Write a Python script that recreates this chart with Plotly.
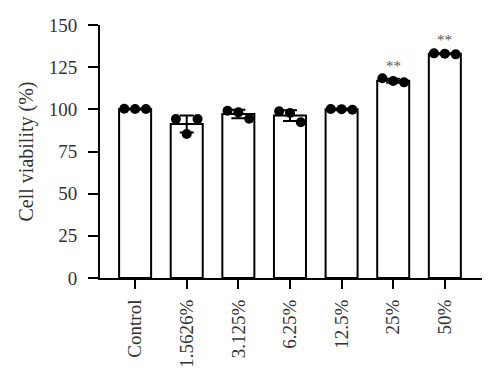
import plotly.graph_objects as go

categories = ["Control", "1.5626%", "3.125%", "6.25%", "12.5%", "25%", "50%"]
means = [100.2, 91.3, 97.2, 96.3, 100.0, 117.0, 132.9]
sds = [0.3, 5.0, 2.5, 3.2, 0.5, 1.2, 0.3]
pts_left = [100.3, 94.3, 99.2, 98.8, 100.2, 118.4, 133.2]
pts_mid = [100.2, 85.4, 98.2, 97.8, 100.1, 116.8, 133.0]
pts_right = [100.2, 94.3, 94.4, 92.3, 99.8, 116.0, 132.6]
stars = ["", "", "", "", "", "**", "**"]

FONT = "Liberation Serif"
x = list(range(len(categories)))

fig = go.Figure()
fig.add_trace(go.Bar(
    x=x, y=means, width=0.62,
    marker=dict(color="white", line=dict(color="black", width=2)),
    error_y=dict(type="data", array=sds, color="black", thickness=2, width=7),
    showlegend=False,
))
off = 0.21
for dx, vals in [(-off, pts_left), (0, pts_mid), (off, pts_right)]:
    fig.add_trace(go.Scatter(
        x=[i + dx for i in x], y=vals, mode="markers",
        marker=dict(color="black", size=10), showlegend=False, cliponaxis=False,
    ))

for i, s in enumerate(stars):
    if s:
        fig.add_annotation(x=i, y=means[i] + 8.5, text=s, showarrow=False,
                           font=dict(family=FONT, size=15, color="#555"))

fig.update_layout(
    width=492, height=376,
    margin=dict(l=92, r=18, t=17, b=106),
    plot_bgcolor="white", paper_bgcolor="white",
    font=dict(family=FONT, size=19, color="#333"),
    xaxis=dict(
        range=[-0.68, 6.72], tickvals=x, ticktext=categories, tickangle=-90,
        showline=True, linecolor="black", linewidth=2, ticks="outside",
        ticklen=9, tickwidth=2, tickcolor="black", showgrid=False, zeroline=False,
        ticklabelstandoff=3, automargin=False, tickfont=dict(size=19),
    ),
    yaxis=dict(
        range=[0, 150], tickvals=[0, 25, 50, 75, 100, 125, 150],
        showline=True, linecolor="black", linewidth=2, ticks="outside",
        ticklen=10, tickwidth=2, tickcolor="black", showgrid=False, zeroline=False,
        title=dict(text="Cell viability (%)", standoff=10, font=dict(size=20)),
        ticklabelstandoff=7, automargin=False, tickfont=dict(size=19),
    ),
)
fig.write_html("out.html")
